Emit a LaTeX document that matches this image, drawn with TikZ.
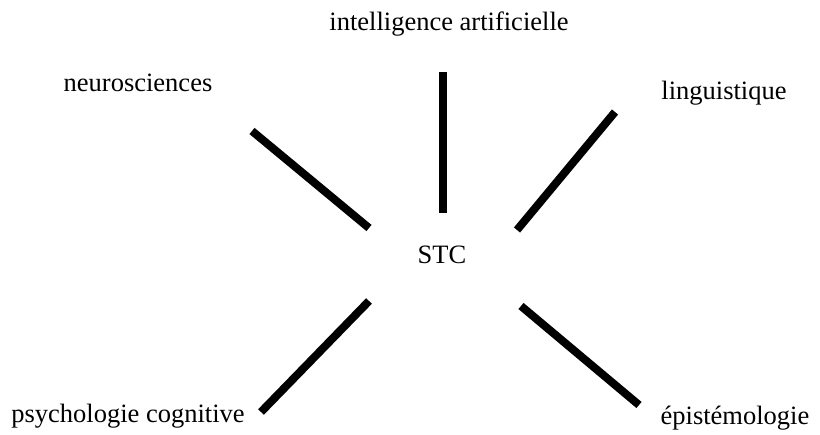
\documentclass[tikz,border=0pt]{standalone}
\usepackage{fontspec}
\setmainfont[Ligatures=Common]{Liberation Serif}
\begin{document}
\begin{tikzpicture}[x=1pt,y=-1pt,
  lbl/.style={inner sep=0pt,anchor=base,font=\fontsize{26.5}{31}\selectfont},
  bar/.style={line width=8pt,line cap=butt}]
\useasboundingbox (0,0) rectangle (820,435);
\node[lbl] (ia) at (449,31) {intelligence artificielle};
\node[lbl] (neuro) at (138,92) {neurosciences};
\node[lbl] (ling) at (724,100) {linguistique};
\node[lbl] (stc) at (442,264) {STC};
\node[lbl] (psy) at (128,423) {psychologie cognitive};
\node[lbl] (epi) at (735,425) {épistémologie};
\coordinate (a1) at (443,72);  \coordinate (a2) at (443,213);
\coordinate (b1) at (252,131); \coordinate (b2) at (369,228);
\coordinate (c1) at (615,112); \coordinate (c2) at (517,230);
\coordinate (d1) at (369,301); \coordinate (d2) at (261,412);
\coordinate (e1) at (521,306); \coordinate (e2) at (639,405);
\draw[bar] (a1) -- (a2);
\draw[bar] (b1) -- (b2);
\draw[bar] (c1) -- (c2);
\draw[bar] (d1) -- (d2);
\draw[bar] (e1) -- (e2);
\end{tikzpicture}
\end{document}
